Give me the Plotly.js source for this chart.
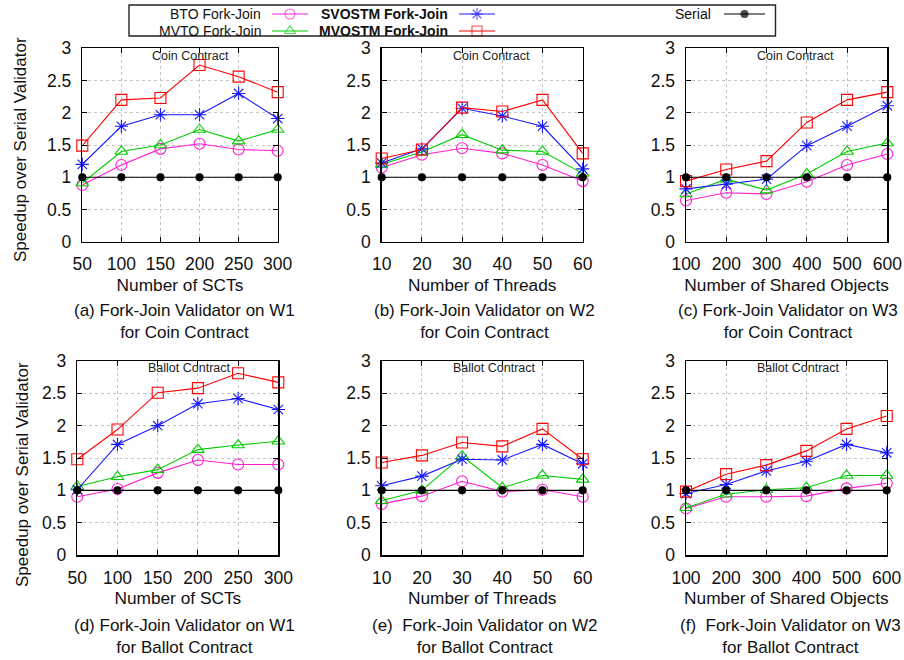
<!DOCTYPE html>
<html><head><meta charset="utf-8">
<script src="https://cdn.plot.ly/plotly-3.0.1.min.js"></script>
<style>html,body{margin:0;padding:0;background:#fff}#chart{width:904px;height:660px}</style>
</head><body><div id="chart"></div>
<script>
// ---------- DATA ----------
const seriesNames = ['BTO Fork-Join', 'MVTO Fork-Join', 'SVOSTM Fork-Join', 'MVOSTM Fork-Join', 'Serial'];

const xSCTs    = [50, 100, 150, 200, 250, 300];
const xThreads = [10, 20, 30, 40, 50, 60];
const xObjects = [100, 200, 300, 400, 500, 600];

// Coin contract
const btoCoinW1    = [0.88, 1.19, 1.44, 1.52, 1.43, 1.41];
const mvtoCoinW1   = [0.91, 1.40, 1.50, 1.74, 1.56, 1.74];
const svostmCoinW1 = [1.20, 1.79, 1.97, 1.97, 2.30, 1.91];
const mvostmCoinW1 = [1.49, 2.20, 2.23, 2.74, 2.56, 2.32];

const btoCoinW2    = [1.15, 1.35, 1.45, 1.37, 1.19, 0.94];
const mvtoCoinW2   = [1.20, 1.39, 1.66, 1.42, 1.40, 1.06];
const svostmCoinW2 = [1.22, 1.44, 2.07, 1.95, 1.79, 1.13];
const mvostmCoinW2 = [1.29, 1.43, 2.08, 2.02, 2.20, 1.37];

const btoCoinW3    = [0.64, 0.76, 0.74, 0.93, 1.19, 1.36];
const mvtoCoinW3   = [0.74, 0.97, 0.80, 1.05, 1.40, 1.53];
const svostmCoinW3 = [0.82, 0.89, 0.97, 1.49, 1.79, 2.11];
const mvostmCoinW3 = [0.94, 1.12, 1.25, 1.85, 2.20, 2.32];

// Ballot contract
const btoBallotW1    = [0.90, 1.02, 1.27, 1.47, 1.40, 1.40];
const mvtoBallotW1   = [1.06, 1.21, 1.32, 1.63, 1.70, 1.76];
const svostmBallotW1 = [1.01, 1.71, 2.00, 2.34, 2.42, 2.25];
const mvostmBallotW1 = [1.48, 1.94, 2.51, 2.58, 2.81, 2.67];

const btoBallotW2    = [0.79, 0.91, 1.14, 0.98, 1.01, 0.90];
const mvtoBallotW2   = [0.84, 1.00, 1.53, 1.04, 1.23, 1.17];
const svostmBallotW2 = [1.07, 1.22, 1.48, 1.47, 1.71, 1.41];
const mvostmBallotW2 = [1.43, 1.54, 1.74, 1.68, 1.95, 1.48];

const btoBallotW3    = [0.72, 0.90, 0.90, 0.91, 1.03, 1.11];
const mvtoBallotW3   = [0.73, 0.94, 1.01, 1.04, 1.23, 1.23];
const svostmBallotW3 = [0.95, 1.09, 1.30, 1.45, 1.71, 1.58];
const mvostmBallotW3 = [0.98, 1.25, 1.39, 1.61, 1.95, 2.15];

const serialSpeedup = [1, 1, 1, 1, 1, 1];

const yTicks = [0, 0.5, 1, 1.5, 2, 2.5, 3];

const xTitles = ['Number of SCTs', 'Number of Threads', 'Number of Shared Objects'];
const yTitle = 'Speedup over Serial Validator';
const captions = [
  '(a) Fork-Join Validator on W1<br>for Coin Contract',
  '(b) Fork-Join Validator on W2<br>for Coin Contract',
  '(c) Fork-Join Validator on W3<br>for Coin Contract',
  '(d) Fork-Join Validator on W1<br>for Ballot Contract',
  '(e)\u00a0 Fork-Join Validator on W2<br>for Ballot Contract',
  '(f)\u00a0 Fork-Join Validator on W3<br>for Ballot Contract'
];
const contractLabels = ['Coin Contract', 'Ballot Contract'];

// ---------- STYLE / LAYOUT ----------
const W = 904, H = 660;
const FONT = 'Liberation Sans, Arial, Helvetica, sans-serif';
const px = v => v / W;
const py = v => 1 - v / H;

const styles = [
  {color: '#ff1ed2', symbol: 'circle-open', size: 11},
  {color: '#00cc00', symbol: 'triangle-up-open', size: 11},
  {color: '#1a1aff', symbol: 'asterisk-open', size: 11},
  {color: '#ff0000', symbol: 'square-open', size: 11},
  {color: '#000000', symbol: 'circle', size: 7}
];

const panels = [
  {x: xSCTs,    ys: [btoCoinW1, mvtoCoinW1, svostmCoinW1, mvostmCoinW1], dx: [82.3, 277.7], dy: [48.3, 241.7], xt: 0, lab: [190, 55.7], cap: 184},
  {x: xThreads, ys: [btoCoinW2, mvtoCoinW2, svostmCoinW2, mvostmCoinW2], dx: [381.7, 582.7], dy: [48.3, 241.7], xt: 1, lab: [491, 55.7], cap: 484},
  {x: xObjects, ys: [btoCoinW3, mvtoCoinW3, svostmCoinW3, mvostmCoinW3], dx: [686, 887.3], dy: [48.3, 241.7], xt: 2, lab: [795.5, 55.7], cap: 788},
  {x: xSCTs,    ys: [btoBallotW1, mvtoBallotW1, svostmBallotW1, mvostmBallotW1], dx: [77.3, 278.3], dy: [361, 555], xt: 0, lab: [189, 367.7], cap: 184},
  {x: xThreads, ys: [btoBallotW2, mvtoBallotW2, svostmBallotW2, mvostmBallotW2], dx: [381.7, 582.7], dy: [361, 555], xt: 1, lab: [494, 367.7], cap: 484},
  {x: xObjects, ys: [btoBallotW3, mvtoBallotW3, svostmBallotW3, mvostmBallotW3], dx: [686, 886.7], dy: [361, 555], xt: 2, lab: [798, 367.7], cap: 790}
];

const traces = [];
const layout = {
  width: W, height: H,
  margin: {l: 0, r: 0, t: 0, b: 0},
  paper_bgcolor: '#fff', plot_bgcolor: 'rgba(0,0,0,0)',
  showlegend: false,
  font: {family: FONT, color: '#111'},
  annotations: [], shapes: []
};

panels.forEach((p, i) => {
  const n = i + 1;
  const xa = 'x' + (n === 1 ? '' : n), ya = 'y' + (n === 1 ? '' : n);
  const allY = p.ys.concat([serialSpeedup]);
  allY.forEach((yv, s) => {
    traces.push({
      type: 'scatter', mode: 'lines+markers', x: p.x, y: yv, name: seriesNames[s],
      xaxis: xa, yaxis: ya, cliponaxis: false,
      line: {color: styles[s].color, width: 1.1},
      marker: {symbol: styles[s].symbol, size: styles[s].size, color: styles[s].color,
               line: {color: styles[s].color, width: 1.1}}
    });
  });
  const axCommon = {
    ticks: 'inside', ticklen: 5, tickcolor: '#000', tickwidth: 1,
    showgrid: true, gridcolor: '#c4c4c4', griddash: 'dot', gridwidth: 1,
    showline: true, linecolor: '#000', linewidth: 1.5, mirror: 'ticks',
    zeroline: false, tickfont: {family: FONT, size: 17.5, color: '#111'}
  };
  layout['xaxis' + (n === 1 ? '' : n)] = Object.assign({}, axCommon, {
    domain: [px(p.dx[0]), px(p.dx[1])], anchor: ya,
    range: [p.x[0], p.x[p.x.length - 1]], tickvals: p.x,
    ticklabelstandoff: 6,
    title: {text: xTitles[p.xt], font: {family: FONT, size: 17.3, color: '#111'}, standoff: 5}
  });
  layout['yaxis' + (n === 1 ? '' : n)] = Object.assign({}, axCommon, {
    domain: [py(p.dy[1]), py(p.dy[0])], anchor: xa,
    range: [0, 3], tickvals: yTicks, ticklabelstandoff: 6
  });
  layout.annotations.push({
    xref: 'paper', yref: 'paper', x: px(p.lab[0]), y: py(p.lab[1]), showarrow: false,
    text: contractLabels[i < 3 ? 0 : 1], font: {family: FONT, size: 12.5, color: '#222'},
    xanchor: 'center', yanchor: 'middle'
  });
  const capY = i < 3 ? 321 : 636;
  layout.annotations.push({
    xref: 'paper', yref: 'paper', x: px(p.cap), y: py(capY), showarrow: false,
    text: captions[i], font: {family: FONT, size: 17, color: '#111'},
    xanchor: 'center', yanchor: 'middle', align: 'center'
  });
});

// Y titles (left column)
[[20, 150], [22, 475]].forEach(([x, y]) => {
  layout.annotations.push({
    xref: 'paper', yref: 'paper', x: px(x), y: py(y), showarrow: false, textangle: -90,
    text: yTitle, font: {family: FONT, size: 17, color: '#111'}, xanchor: 'center', yanchor: 'middle'
  });
});

// ---------- Legend (text left of key, gnuplot style) ----------
layout.shapes.push({type: 'rect', xref: 'paper', yref: 'paper',
  x0: px(129), x1: px(775.5), y0: py(36), y1: py(5), line: {color: '#222', width: 1.4}, fillcolor: 'rgba(0,0,0,0)'});
layout.xaxis7 = {domain: [0, 1], range: [0, W], visible: false, fixedrange: true, anchor: 'y7'};
layout.yaxis7 = {domain: [0, 1], range: [H, 0], visible: false, fixedrange: true, anchor: 'x7'};
const legendSlots = [
  {tx: 263, ty: 14, l0: 272, l1: 308, bold: false},
  {tx: 263, ty: 31, l0: 272, l1: 308, bold: false},
  {tx: 450, ty: 14, l0: 459, l1: 495, bold: true},
  {tx: 450, ty: 31, l0: 459, l1: 495, bold: true},
  {tx: 713, ty: 14, l0: 724, l1: 765, bold: false}
];
legendSlots.forEach((sl, s) => {
  traces.push({
    type: 'scatter', mode: 'lines+markers', xaxis: 'x7', yaxis: 'y7', cliponaxis: false, hoverinfo: 'skip',
    x: [sl.l0, (sl.l0 + sl.l1) / 2, sl.l1], y: [sl.ty, sl.ty, sl.ty],
    line: {color: styles[s].color, width: 1.1},
    marker: {symbol: styles[s].symbol, size: [0, s === 4 ? 7 : 10, 0], color: styles[s].color,
             line: {color: styles[s].color, width: 1.1}}
  });
  layout.annotations.push({
    xref: 'paper', yref: 'paper', x: px(sl.tx), y: py(sl.ty), showarrow: false,
    text: sl.bold ? '<b>' + seriesNames[s] + '</b>' : seriesNames[s],
    font: {family: FONT, size: 14, color: '#111'}, xanchor: 'right', yanchor: 'middle'
  });
});

Plotly.newPlot('chart', traces, layout, {displayModeBar: false, staticPlot: true});
</script>
</body></html>
